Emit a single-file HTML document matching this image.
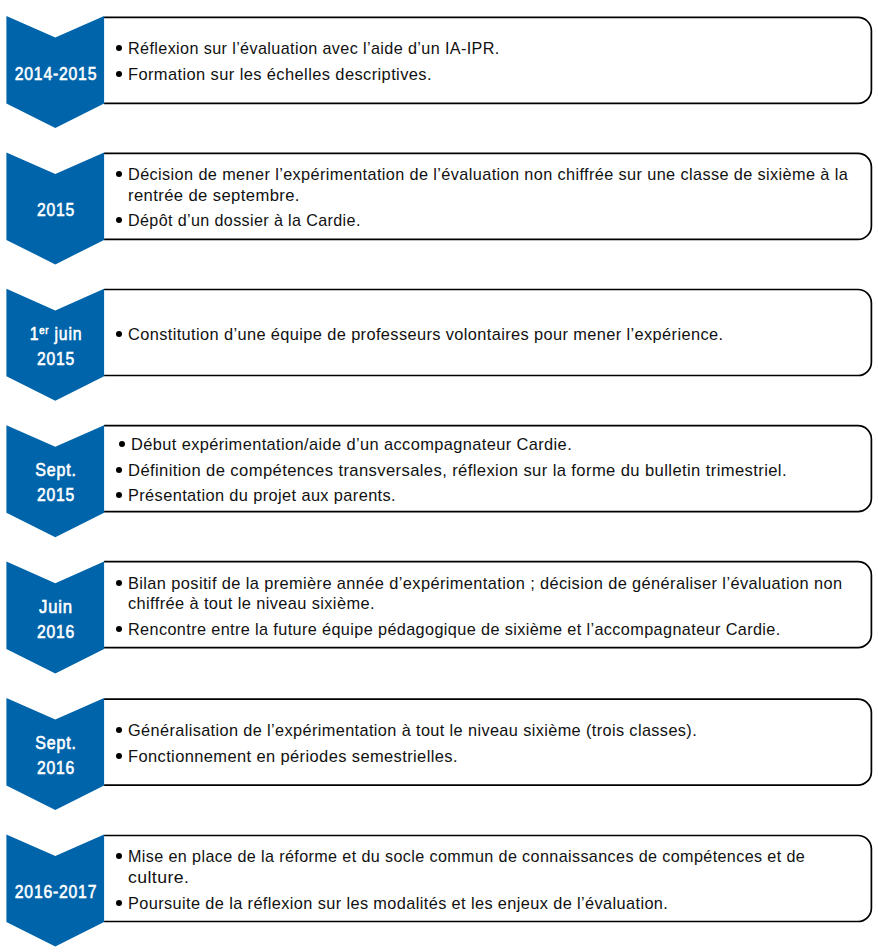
<!DOCTYPE html>
<html><head><meta charset="utf-8"><style>
html,body{margin:0;padding:0;background:#fff;}
body{width:878px;height:952px;position:relative;overflow:hidden;font-family:"Liberation Sans",sans-serif;}
.t{position:absolute;white-space:nowrap;letter-spacing:0.4px;font-size:17px;line-height:20px;color:#111;transform-origin:0 0;}
.b{position:absolute;width:6.0px;height:6.0px;border-radius:50%;background:#000;}
.l{position:absolute;left:-44.3px;width:200px;transform-origin:100px 0;text-align:center;white-space:nowrap;font-weight:normal;color:#fff;-webkit-text-stroke:0.6px #fff;letter-spacing:0.9px;font-size:18.0px;line-height:20px;}
.l sup{font-size:0.6em;line-height:0;vertical-align:0.55em;}
svg{position:absolute;left:0;top:0;}
</style></head><body>
<svg width="878" height="952" viewBox="0 0 878 952"><path d="M104.1,17.30 H857.90 A13.5,13.5 0 0 1 871.40,30.80 V89.80 A13.5,13.5 0 0 1 857.90,103.30 H104.1" fill="none" stroke="#000" stroke-width="1.7"/><polygon fill="#0064aa" points="6.40,16.00 55.30,37.60 104.10,16.00 104.10,103.50 55.30,128.00 6.40,103.50"/><path d="M104.1,153.47 H857.90 A13.5,13.5 0 0 1 871.40,166.97 V225.97 A13.5,13.5 0 0 1 857.90,239.47 H104.1" fill="none" stroke="#000" stroke-width="1.7"/><polygon fill="#0064aa" points="6.40,152.40 55.30,174.00 104.10,152.40 104.10,239.90 55.30,264.40 6.40,239.90"/><path d="M104.1,289.51 H857.90 A13.5,13.5 0 0 1 871.40,303.01 V362.01 A13.5,13.5 0 0 1 857.90,375.51 H104.1" fill="none" stroke="#000" stroke-width="1.7"/><polygon fill="#0064aa" points="6.40,288.80 55.30,310.40 104.10,288.80 104.10,376.30 55.30,400.80 6.40,376.30"/><path d="M104.1,425.66 H857.90 A13.5,13.5 0 0 1 871.40,439.16 V498.16 A13.5,13.5 0 0 1 857.90,511.66 H104.1" fill="none" stroke="#000" stroke-width="1.7"/><polygon fill="#0064aa" points="6.40,425.20 55.30,446.80 104.10,425.20 104.10,512.70 55.30,537.20 6.40,512.70"/><path d="M104.1,561.66 H857.90 A13.5,13.5 0 0 1 871.40,575.16 V634.16 A13.5,13.5 0 0 1 857.90,647.66 H104.1" fill="none" stroke="#000" stroke-width="1.7"/><polygon fill="#0064aa" points="6.40,561.60 55.30,583.20 104.10,561.60 104.10,649.10 55.30,673.60 6.40,649.10"/><path d="M104.1,699.18 H857.90 A13.5,13.5 0 0 1 871.40,712.68 V771.68 A13.5,13.5 0 0 1 857.90,785.18 H104.1" fill="none" stroke="#000" stroke-width="1.7"/><polygon fill="#0064aa" points="6.40,698.00 55.30,719.60 104.10,698.00 104.10,785.50 55.30,810.00 6.40,785.50"/><path d="M104.1,835.50 H857.90 A13.5,13.5 0 0 1 871.40,849.00 V908.00 A13.5,13.5 0 0 1 857.90,921.50 H104.1" fill="none" stroke="#000" stroke-width="1.7"/><polygon fill="#0064aa" points="6.40,834.40 55.30,856.00 104.10,834.40 104.10,921.90 55.30,946.40 6.40,921.90"/></svg>
<div class="l" style="top:63.56px;transform:scaleX(0.8757)">2014-2015</div>
<div class="l" style="top:199.96px;transform:scaleX(0.8734)">2015</div>
<div class="l" style="top:323.86px;transform:scaleX(0.8785)">1<sup>er</sup> juin</div>
<div class="l" style="top:348.86px;transform:scaleX(0.8709)">2015</div>
<div class="l" style="top:460.26px;transform:scaleX(0.8889)">Sept.</div>
<div class="l" style="top:485.26px;transform:scaleX(0.8709)">2015</div>
<div class="l" style="top:596.66px;transform:scaleX(0.9289)">Juin</div>
<div class="l" style="top:621.66px;transform:scaleX(0.871)">2016</div>
<div class="l" style="top:733.06px;transform:scaleX(0.8889)">Sept.</div>
<div class="l" style="top:758.06px;transform:scaleX(0.871)">2016</div>
<div class="l" style="top:881.96px;transform:scaleX(0.8747)">2016-2017</div>
<div class="t" style="left:128.27px;top:38.91px;transform:scaleX(0.9510)">Réflexion sur l’évaluation avec l’aide d’un IA-IPR.</div>
<div class="t" style="left:128.25px;top:64.91px;transform:scaleX(0.9691)">Formation sur les échelles descriptives.</div>
<div class="t" style="left:128.24px;top:165.01px;transform:scaleX(0.9575)">Décision de mener l’expérimentation de l’évaluation non chiffrée sur une classe de sixième à la</div>
<div class="t" style="left:128.24px;top:186.11px;transform:scaleX(0.9784)">rentrée de septembre.</div>
<div class="t" style="left:128.27px;top:210.91px;transform:scaleX(0.9469)">Dépôt d’un dossier à la Cardie.</div>
<div class="t" style="left:128.26px;top:324.61px;transform:scaleX(0.9625)">Constitution d’une équipe de professeurs volontaires pour mener l’expérience.</div>
<div class="t" style="left:131.04px;top:435.11px;transform:scaleX(0.9646)">Début expérimentation/aide d’un accompagnateur Cardie.</div>
<div class="t" style="left:128.24px;top:461.21px;transform:scaleX(0.9764)">Définition de compétences transversales, réflexion sur la forme du bulletin trimestriel.</div>
<div class="t" style="left:128.26px;top:486.01px;transform:scaleX(0.9620)">Présentation du projet aux parents.</div>
<div class="t" style="left:128.24px;top:574.11px;transform:scaleX(0.9640)">Bilan positif de la première année d’expérimentation ; décision de généraliser l’évaluation non</div>
<div class="t" style="left:127.74px;top:594.01px;transform:scaleX(0.9637)">chiffrée à tout le niveau sixième.</div>
<div class="t" style="left:128.26px;top:620.01px;transform:scaleX(0.9550)">Rencontre entre la future équipe pédagogique de sixième et l’accompagnateur Cardie.</div>
<div class="t" style="left:128.26px;top:721.11px;transform:scaleX(0.9581)">Généralisation de l’expérimentation à tout le niveau sixième (trois classes).</div>
<div class="t" style="left:128.25px;top:747.11px;transform:scaleX(0.9687)">Fonctionnement en périodes semestrielles.</div>
<div class="t" style="left:128.27px;top:847.01px;transform:scaleX(0.9497)">Mise en place de la réforme et du socle commun de connaissances de compétences et de</div>
<div class="t" style="left:127.72px;top:868.01px;transform:scaleX(1.0390)">culture.</div>
<div class="t" style="left:128.26px;top:894.01px;transform:scaleX(0.9603)">Poursuite de la réflexion sur les modalités et les enjeux de l’évaluation.</div>
<div class="b" style="left:116.10px;top:44.80px"></div>
<div class="b" style="left:116.10px;top:70.80px"></div>
<div class="b" style="left:116.10px;top:170.90px"></div>
<div class="b" style="left:116.10px;top:216.80px"></div>
<div class="b" style="left:116.10px;top:330.50px"></div>
<div class="b" style="left:119.10px;top:441.00px"></div>
<div class="b" style="left:116.10px;top:467.10px"></div>
<div class="b" style="left:116.10px;top:491.90px"></div>
<div class="b" style="left:116.10px;top:580.00px"></div>
<div class="b" style="left:116.10px;top:625.90px"></div>
<div class="b" style="left:116.10px;top:727.00px"></div>
<div class="b" style="left:116.10px;top:753.00px"></div>
<div class="b" style="left:116.10px;top:852.90px"></div>
<div class="b" style="left:116.10px;top:899.90px"></div>
</body></html>
